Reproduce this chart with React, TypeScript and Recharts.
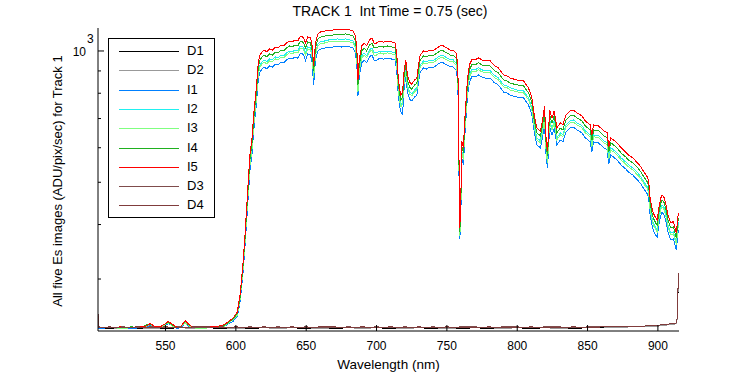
import React from 'react';
import { LineChart, Line, XAxis, YAxis } from 'recharts';

// wavelength grid (nm) for the five Es images
const wavelengthI = [
  502, 510, 518, 526, 532, 536, 539, 542, 546, 549,
  552, 555, 558, 561, 564, 566, 569, 575, 582, 588,
  592, 595, 598, 601, 603, 605, 606.5, 608, 609, 610,
  611.5, 612.5, 613.3, 614.4, 615.1, 616, 617.2, 618.6, 620, 622,
  624, 626, 628, 630, 632, 634, 636, 638, 640, 642,
  644, 645.5, 647, 648.5, 649.5, 651, 653, 654.2, 655.3, 656.3,
  657.3, 658.5, 660, 663, 666, 669, 672, 675, 678, 681,
  683.5, 685, 686, 686.8, 687.6, 688.5, 689.5, 691.2, 693, 695,
  696.7, 698.3, 700, 702.6, 705, 708, 711, 713.2, 714.4, 715.3,
  716.3, 717.3, 718.5, 719.6, 720.8, 722, 723.5, 725, 727, 728.7,
  729.8, 731, 733.4, 735.5, 738, 740, 742.9, 745.2, 747.5, 750,
  752.4, 754.5, 756.6, 757.8, 758.5, 759.2, 759.9, 760.6, 761.8, 762.5,
  763.4, 764.7, 766, 767.7, 770, 772.5, 775, 777.3, 780.8, 783.2,
  786.7, 790.3, 793, 795, 799.8, 804.5, 806.5, 808, 810.4, 812.1,
  814, 816.4, 818, 819.4, 820.6, 821.6, 823, 824.7, 826.3, 828.2,
  830.6, 832.5, 834.6, 837.7, 840, 842.4, 846, 848.4, 851.9, 853.1,
  854.3, 857.9, 861.4, 864, 865, 866.5, 868.5, 871, 874, 877,
  879, 882, 885.5, 888, 890, 892.5, 893.5, 894.6, 896.7, 898.5,
  899.6, 900.4, 902, 903, 904.6, 906, 906.8, 909, 911, 913.1,
  914.5, 915,
];

const i5 = [
  233, 232, 233, 232, 233, 234, 237, 234, 233, 236,
  240, 236, 233, 234, 241, 237, 233, 232, 233, 234,
  236, 240, 244, 252, 276, 323, 379, 455, 514, 578,
  632, 702, 752, 814, 867, 944, 979, 995, 1005, 995,
  1011, 1005, 1021, 1016, 1032, 1027, 1043, 1054, 1048, 1060,
  1054, 1077, 1082, 1066, 1043, 1077, 1071, 1032, 924, 1016,
  1071, 1094, 1105, 1111, 1117, 1117, 1123, 1117, 1123, 1117,
  1111, 1082, 1016, 858, 944, 989, 1027, 1043, 1027, 1060,
  1071, 1043, 1043, 1054, 1048, 1054, 1048, 1043, 979, 881,
  823, 793, 805, 900, 954, 881, 849, 840, 858, 867,
  929, 979, 1000, 995, 1005, 1000, 1016, 1027, 1027, 1016,
  1005, 1005, 989, 929, 609, 393, 453, 622, 599, 677,
  752, 867, 929, 954, 954, 964, 954, 949, 949, 929,
  914, 881, 876, 867, 858, 854, 836, 823, 781, 713,
  666, 656, 691, 748, 622, 590, 732, 702, 729, 666,
  684, 677, 713, 729, 732, 721, 710, 691, 677, 642,
  677, 673, 656, 649, 602, 632, 625, 615, 599, 587,
  578, 569, 554, 542, 528, 514, 501, 455, 425, 414,
  410, 432, 460, 467, 460, 441, 425, 404, 406, 383,
  425, 421,
];

const i4 = [
  232, 233, 232, 233, 232, 235, 237, 233, 233, 236,
  239, 235, 233, 234, 240, 236, 233, 232, 233, 233,
  235, 239, 243, 250, 272, 318, 371, 445, 502, 564,
  617, 685, 734, 794, 845, 920, 954, 969, 979, 970,
  985, 979, 994, 990, 1005, 1000, 1016, 1027, 1021, 1032,
  1027, 1049, 1054, 1038, 1016, 1049, 1043, 1005, 900, 990,
  1043, 1066, 1076, 1082, 1088, 1088, 1094, 1088, 1094, 1088,
  1082, 1054, 990, 836, 919, 963, 1000, 1016, 1000, 1032,
  1043, 1016, 1016, 1027, 1021, 1027, 1021, 1016, 954, 858,
  802, 772, 784, 877, 929, 858, 827, 818, 836, 844,
  905, 954, 974, 969, 979, 974, 990, 1000, 1000, 990,
  979, 979, 963, 905, 593, 385, 441, 606, 583, 659,
  732, 844, 905, 929, 929, 939, 929, 924, 924, 905,
  890, 858, 853, 844, 836, 832, 814, 802, 761, 694,
  649, 639, 673, 729, 606, 575, 713, 684, 710, 649,
  666, 659, 694, 710, 713, 702, 692, 673, 659, 625,
  659, 656, 639, 632, 586, 616, 609, 599, 583, 572,
  563, 554, 540, 528, 514, 501, 488, 443, 414, 403,
  399, 421, 448, 455, 448, 430, 414, 393, 395, 373,
  414, 410,
];

const i3 = [
  232, 233, 231, 232, 233, 233, 236, 233, 232, 235,
  238, 234, 232, 233, 238, 235, 232, 231, 232, 233,
  234, 238, 242, 248, 269, 312, 363, 432, 486, 546,
  596, 662, 709, 766, 815, 887, 920, 934, 944, 934,
  949, 944, 959, 954, 969, 964, 979, 990, 984, 995,
  990, 1011, 1016, 1001, 979, 1011, 1006, 969, 868, 954,
  1006, 1027, 1038, 1043, 1049, 1049, 1054, 1049, 1054, 1049,
  1043, 1016, 954, 806, 886, 929, 964, 979, 964, 995,
  1006, 979, 979, 990, 984, 990, 984, 979, 919, 827,
  773, 745, 756, 845, 896, 827, 797, 789, 806, 814,
  872, 919, 939, 934, 944, 939, 954, 964, 964, 954,
  944, 944, 929, 872, 572, 376, 425, 584, 562, 636,
  706, 814, 872, 896, 896, 905, 896, 891, 891, 872,
  858, 827, 823, 814, 806, 802, 785, 773, 733, 670,
  625, 616, 649, 702, 584, 554, 687, 659, 685, 625,
  642, 636, 670, 685, 687, 677, 667, 649, 636, 603,
  636, 632, 616, 609, 565, 593, 587, 577, 562, 551,
  543, 534, 520, 509, 496, 483, 470, 427, 399, 389,
  385, 406, 432, 439, 432, 414, 399, 379, 381, 360,
  399, 395,
];

const i2 = [
  233, 232, 233, 232, 232, 233, 236, 234, 232, 235,
  238, 235, 232, 233, 239, 235, 232, 232, 232, 233,
  235, 238, 242, 249, 270, 314, 366, 436, 491, 552,
  603, 670, 716, 775, 825, 897, 930, 944, 954, 945,
  959, 954, 969, 964, 979, 975, 990, 1000, 995, 1006,
  1000, 1022, 1027, 1012, 990, 1022, 1016, 979, 877, 964,
  1016, 1038, 1049, 1054, 1060, 1060, 1066, 1060, 1066, 1060,
  1054, 1027, 964, 814, 896, 939, 975, 990, 975, 1006,
  1016, 990, 990, 1000, 995, 1000, 995, 990, 929, 836,
  781, 753, 764, 854, 905, 836, 806, 797, 814, 823,
  882, 929, 949, 944, 954, 949, 964, 975, 975, 964,
  954, 954, 939, 882, 578, 380, 430, 590, 568, 642,
  714, 823, 882, 905, 905, 915, 905, 901, 901, 882,
  867, 836, 831, 823, 814, 810, 793, 781, 741, 677,
  632, 623, 656, 710, 590, 560, 695, 666, 692, 632,
  649, 642, 677, 692, 695, 684, 674, 656, 642, 609,
  642, 639, 623, 616, 571, 600, 593, 584, 568, 557,
  549, 540, 526, 514, 501, 488, 475, 432, 403, 393,
  389, 410, 437, 443, 437, 419, 403, 383, 385, 363,
  403, 400,
];

const i1 = [
  231, 232, 232, 231, 232, 232, 235, 232, 232, 234,
  237, 234, 231, 232, 238, 234, 232, 231, 232, 232,
  234, 237, 240, 246, 266, 307, 356, 422, 474, 532,
  581, 645, 689, 746, 794, 863, 895, 909, 919, 910,
  924, 919, 933, 929, 943, 939, 953, 963, 958, 969,
  963, 984, 989, 974, 953, 984, 979, 943, 835, 929,
  979, 1000, 1010, 1015, 1021, 1021, 1026, 1021, 1026, 1021,
  1015, 989, 929, 790, 863, 904, 939, 953, 939, 969,
  979, 953, 953, 963, 958, 963, 958, 953, 895, 805,
  752, 725, 715, 823, 872, 805, 776, 768, 784, 792,
  849, 895, 914, 909, 919, 914, 929, 939, 939, 929,
  919, 919, 904, 849, 557, 370, 414, 569, 547, 619,
  687, 792, 849, 872, 872, 881, 872, 867, 867, 849,
  835, 805, 801, 792, 784, 781, 764, 752, 714, 652,
  609, 600, 632, 684, 569, 539, 669, 642, 666, 609,
  625, 619, 652, 666, 669, 659, 649, 632, 619, 587,
  619, 615, 600, 593, 550, 578, 571, 562, 547, 537,
  528, 520, 506, 495, 483, 470, 458, 416, 388, 378,
  375, 395, 420, 427, 420, 403, 388, 369, 371, 350,
  388, 385,
];

// dark frames
const wavelengthD = [
  502, 502.6, 510, 520, 530, 540, 550, 560, 570, 580,
  590, 600, 610, 620, 630, 640, 650, 660, 670, 680,
  690, 700, 710, 720, 730, 740, 750, 760, 770, 780,
  790, 800, 810, 820, 830, 840, 850, 860, 870, 880,
  890, 900, 905, 910, 913.5, 914.5, 915,
];

const d1 = [
  238, 232, 231, 232, 231, 232, 231, 232, 231, 232,
  231, 232, 231, 232, 231, 232, 231, 232, 231, 232,
  231, 232, 231, 232, 232, 231, 232, 231, 232, 231,
  232, 232, 231, 232, 232, 231, 232, 232, 232, 233,
  233, 234, 235, 236, 237, 290, 305,
];
const d2 = [
  236, 232, 232, 231, 232, 231, 232, 232, 231, 232,
  232, 231, 232, 232, 231, 232, 232, 231, 232, 232,
  231, 232, 232, 231, 232, 232, 231, 232, 232, 232,
  231, 232, 232, 232, 231, 232, 232, 233, 232, 233,
  233, 234, 235, 236, 237, 292, 306,
];
const d3 = [
  249, 233, 232, 233, 232, 233, 232, 233, 232, 232,
  233, 232, 233, 232, 233, 232, 233, 232, 232, 233,
  232, 233, 232, 233, 232, 233, 232, 233, 233, 232,
  233, 233, 232, 233, 233, 232, 233, 233, 233, 234,
  234, 235, 236, 237, 238, 300, 310,
];
const d4 = [
  247, 232, 233, 232, 233, 232, 233, 232, 233, 233,
  232, 233, 232, 233, 232, 233, 232, 233, 233, 232,
  233, 232, 233, 232, 233, 232, 233, 232, 232, 233,
  232, 232, 233, 232, 232, 233, 232, 233, 233, 233,
  234, 235, 236, 237, 238, 298, 309,
];

const xTicks = [550, 600, 650, 700, 750, 800, 850, 900];
const yTicks = [300, 400, 500, 600, 700, 800, 900, 1000];

const series = [
  { name: 'D1', color: '#000000', xs: wavelengthD, ys: d1 },
  { name: 'D2', color: '#999999', xs: wavelengthD, ys: d2 },
  { name: 'I1', color: '#0080ff', xs: wavelengthI, ys: i1 },
  { name: 'I2', color: '#20f0f0', xs: wavelengthI, ys: i2 },
  { name: 'I3', color: '#80ff80', xs: wavelengthI, ys: i3 },
  { name: 'I4', color: '#1fb01f', xs: wavelengthI, ys: i4 },
  { name: 'I5', color: '#ff0000', xs: wavelengthI, ys: i5 },
  { name: 'D3', color: '#7f4c4c', xs: wavelengthD, ys: d3 },
  { name: 'D4', color: '#803c3c', xs: wavelengthD, ys: d4 },
];

const FONT = '"Liberation Sans", Arial, Helvetica, sans-serif';

const BottomTick = (props: any) => {
  const { x, y, payload } = props;
  return (
    <g>
      <line x1={x} x2={x} y1={y} y2={y - 6} stroke="#000" />
      <text x={x} y={y + 19} textAnchor="middle" fontSize={12} fontFamily={FONT} fill="#000">
        {payload.value}
      </text>
    </g>
  );
};

const TopTick = (props: any) => {
  const { x, y } = props;
  return <line x1={x} x2={x} y1={y} y2={y + 6} stroke="#000" />;
};

const LeftTick = (props: any) => {
  const { x, y, payload } = props;
  const major = payload.value === 1000;
  return (
    <g>
      <line x1={x} x2={x + (major ? 6 : 3)} y1={y} y2={y} stroke="#000" />
      {major ? (
        <g fontFamily={FONT} fill="#000">
          <text x={x - 12} y={y + 5} textAnchor="end" fontSize={12}>10</text>
          <text x={x - 11} y={y - 8} textAnchor="start" fontSize={12}>3</text>
        </g>
      ) : null}
    </g>
  );
};

const RightTick = (props: any) => {
  const { x, y, payload } = props;
  const major = payload.value === 1000;
  return <line x1={x} x2={x - (major ? 6 : 3)} y1={y} y2={y} stroke="#000" />;
};

export default function App() {
  return (
    <div style={{ position: 'relative', width: 750, height: 375, background: '#fff', fontFamily: FONT }}>
      <style>{'body{margin:0}'}</style>
      <LineChart width={750} height={375} margin={{ top: 28, right: 71, bottom: 0, left: 0 }}>
        <XAxis
          xAxisId={0}
          type="number"
          dataKey="wl"
          domain={[502, 915]}
          allowDataOverflow
          ticks={xTicks}
          interval={0}
          height={44}
          tickSize={0}
          tickMargin={0}
          tickLine={false}
          axisLine={{ stroke: '#000' }}
          tick={BottomTick}
        />
        <XAxis
          xAxisId="top"
          orientation="top"
          type="number"
          dataKey="wl"
          domain={[502, 915]}
          allowDataOverflow
          ticks={xTicks}
          interval={0}
          height={0}
          tickSize={0}
          tickMargin={0}
          tickLine={false}
          axisLine={{ stroke: '#000' }}
          tick={TopTick}
        />
        <YAxis
          yAxisId={0}
          type="number"
          scale="log"
          domain={[228, 1129]}
          allowDataOverflow
          ticks={yTicks}
          interval={0}
          width={98}
          tickSize={0}
          tickMargin={0}
          tickLine={false}
          axisLine={{ stroke: '#000' }}
          tick={LeftTick}
        />
        <YAxis
          yAxisId="right"
          orientation="right"
          type="number"
          scale="log"
          domain={[228, 1129]}
          allowDataOverflow
          ticks={yTicks}
          interval={0}
          width={0}
          tickSize={0}
          tickMargin={0}
          tickLine={false}
          axisLine={{ stroke: '#000' }}
          tick={RightTick}
        />
        {series.map(s => (
          <Line
            key={s.name}
            xAxisId={0}
            yAxisId={0}
            data={s.xs.map((wl, k) => ({ wl, v: s.ys[k] }))}
            dataKey="v"
            type="linear"
            stroke={s.color}
            strokeWidth={1}
            shapeRendering="crispEdges"
            dot={false}
            activeDot={false}
            isAnimationActive={false}
          />
        ))}
      </LineChart>

      <div style={{ position: 'absolute', left: 0, width: 780, top: 3, textAlign: 'center', fontSize: 14, whiteSpace: 'pre', color: '#000' }}>
        {'TRACK 1  Int Time = 0.75 (sec)'}
      </div>
      <div style={{ position: 'absolute', left: 0, width: 777, top: 357, textAlign: 'center', fontSize: 13.5, color: '#000' }}>
        Wavelength (nm)
      </div>
      <div style={{
        position: 'absolute', left: 57, top: 181, fontSize: 13, whiteSpace: 'nowrap', color: '#000',
        transform: 'translate(-50%, -50%) rotate(-90deg)'
      }}>
        All five Es images (ADU/pix/sec) for Track 1
      </div>

      <div style={{
        position: 'absolute', left: 108, top: 38, width: 105, height: 178,
        border: '1px solid #000', background: '#fff'
      }}>
        {series.map((s, k) => (
          <div key={s.name} style={{ position: 'absolute', left: 0, top: 2 + k * 19.3, height: 20, width: 105 }}>
            <svg width={62} height={20} style={{ position: 'absolute', left: 10, top: 0 }}>
              <line x1={0} x2={60} y1={10.5} y2={10.5} stroke={s.color} strokeWidth={1} />
            </svg>
            <span style={{ position: 'absolute', left: 78, top: 2, fontSize: 13, lineHeight: '16px' }}>{s.name}</span>
          </div>
        ))}
      </div>
    </div>
  );
}
